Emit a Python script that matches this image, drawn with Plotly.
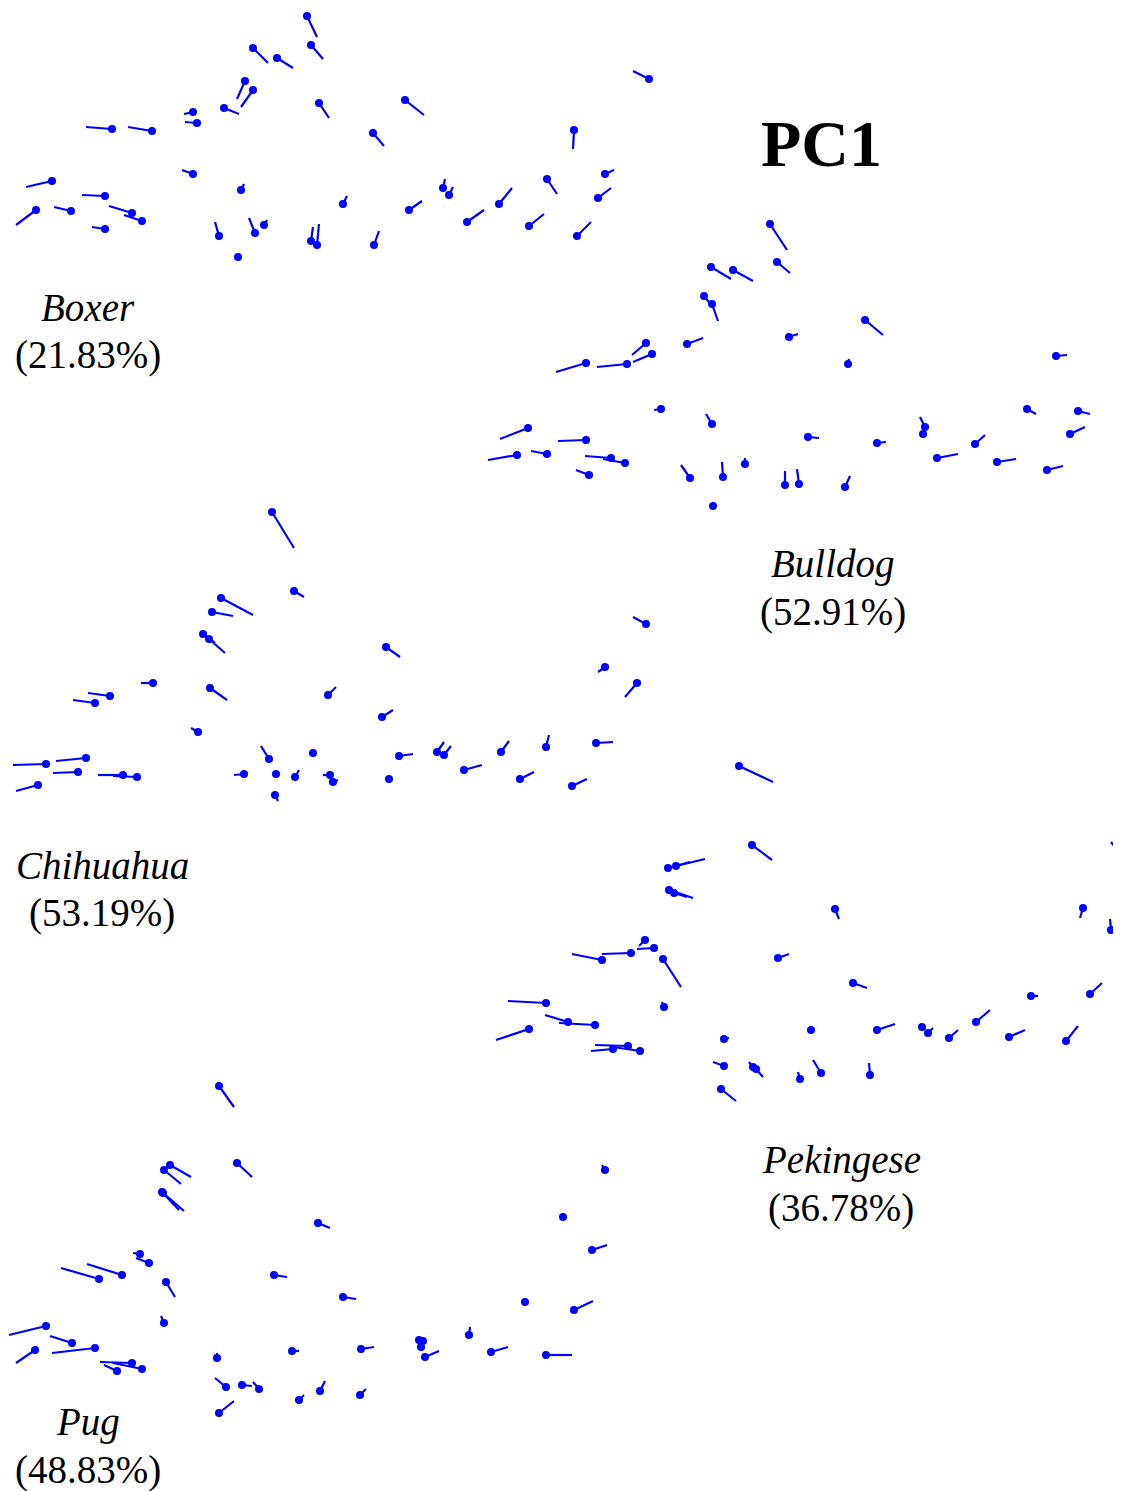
import plotly.graph_objects as go

# ---------------- data (landmark positions and PC1 vector tips) ----------------
boxer_x = [307,311,253,277,245,253,224,319,193,197,112,152,193,52,105,36,71,132,142,105,241,219,255,264,238,311,317,649,405,373,574,605,547,598,343,443,449,499,409,467,529,577,374]
boxer_y = [16,45,48,58,81,90,108,103,112,123,129,131,174,181,196,210,211,213,221,229,190,236,233,225,257,241,245,79,100,133,130,174,179,198,204,188,195,204,210,222,226,236,245]
boxer_tx = [317,323,268,293,237,241,239,329,184,185,86,128,182,26,82,16,54,109,124,92,244,215,249,267,238,313,319,633,424,384,573,614,557,611,347,445,453,512,422,484,544,591,379]
boxer_ty = [37,59,63,68,99,107,114,118,114,122,127,127,170,187,195,225,207,206,215,227,184,222,218,220,257,227,224,71,115,146,149,170,194,188,196,179,187,188,201,210,214,222,231]

bulldog_x = [770,777,711,733,704,712,687,789,646,652,586,627,661,712,528,586,517,547,611,625,589,690,723,745,785,799,713,808,865,848,1056,877,925,923,1027,1078,975,1070,937,997,1047,845,1123]
bulldog_y = [224,262,267,270,296,304,344,337,343,354,363,364,409,424,428,440,455,454,458,463,475,478,477,464,485,484,506,437,320,364,356,443,427,434,409,411,444,434,458,462,470,487,302]
bulldog_tx = [787,790,731,753,713,718,703,798,632,633,556,597,654,706,500,558,488,531,585,603,576,681,722,745,785,797,713,819,883,849,1067,886,920,923,1036,1090,985,1085,958,1016,1063,850,1119]
bulldog_ty = [250,273,279,281,307,321,338,334,355,362,372,367,410,414,439,441,460,451,456,459,470,465,462,458,471,469,506,438,335,359,355,442,417,434,414,414,435,427,454,459,466,476,299]

chihuahua_x = [272,294,221,212,203,209,153,110,95,210,198,328,46,86,78,38,123,137,244,269,276,295,313,275,330,333,646,386,605,637,382,399,437,444,501,546,596,389,464,520,572]
chihuahua_y = [512,591,598,612,634,639,683,696,703,688,732,695,764,758,772,785,775,777,774,759,774,777,753,795,775,782,624,647,667,683,717,756,752,755,752,747,743,779,770,779,786]
chihuahua_tx = [294,304,253,233,215,225,141,88,73,227,191,336,13,56,53,16,98,113,234,261,276,299,313,278,323,338,633,400,598,625,393,413,444,451,509,549,613,389,482,534,587]
chihuahua_ty = [548,597,615,616,643,653,683,693,700,700,728,687,765,761,773,791,775,776,775,746,774,770,753,801,775,780,617,657,672,697,710,754,742,746,741,735,742,779,765,772,779]

pekingese_x = [739,752,668,676,669,674,602,631,645,654,663,664,778,546,529,568,595,628,613,640,724,724,753,756,721,800,811,1118,835,1083,1111,853,1031,1090,877,922,928,949,976,1009,1066,821,870]
pekingese_y = [766,845,868,866,890,893,960,953,940,948,959,1007,958,1003,1029,1022,1025,1046,1049,1051,1039,1066,1067,1069,1089,1079,1030,851,909,908,930,983,996,994,1030,1027,1033,1038,1022,1037,1041,1073,1075]
pekingese_tx = [773,772,690,705,693,687,572,602,639,637,681,662,789,508,496,545,559,595,591,613,729,713,749,763,736,798,811,1111,839,1080,1110,867,1038,1102,895,922,933,958,990,1025,1078,813,869]
pekingese_ty = [782,860,862,859,898,897,954,954,946,949,987,1002,954,1001,1040,1015,1023,1045,1051,1047,1038,1062,1062,1077,1101,1072,1030,842,919,918,919,988,996,983,1024,1027,1028,1030,1010,1030,1026,1060,1063]

pug_x = [219,237,170,164,162,163,318,140,149,122,99,166,274,164,46,72,35,95,132,142,117,217,292,226,242,259,219,299,605,563,592,343,525,574,469,361,419,423,421,425,491,546,320,360]
pug_y = [1086,1163,1165,1170,1192,1193,1223,1254,1263,1275,1279,1282,1275,1323,1326,1343,1350,1348,1363,1369,1371,1358,1351,1387,1385,1389,1413,1400,1170,1217,1250,1297,1302,1310,1335,1349,1340,1341,1347,1357,1352,1355,1391,1395]
pug_tx = [234,252,191,181,184,179,330,133,136,87,61,175,287,161,9,50,16,52,100,113,104,217,299,215,252,253,234,304,602,563,607,356,525,593,470,374,419,423,421,439,508,572,325,366]
pug_ty = [1107,1177,1177,1184,1211,1210,1228,1253,1258,1264,1268,1297,1277,1316,1335,1336,1363,1353,1362,1363,1365,1353,1351,1378,1386,1382,1401,1395,1165,1217,1245,1299,1302,1301,1327,1347,1340,1341,1347,1351,1347,1355,1381,1389]

breeds = ["Boxer", "Bulldog", "Chihuahua", "Pekingese", "Pug"]
variance = ["21.83%", "52.91%", "53.19%", "36.78%", "48.83%"]
label_x = [88, 833, 102, 841, 88]
label_y = [307, 564, 865, 1160, 1422]
title_text = "PC1"

panels = [
    (boxer_x, boxer_y, boxer_tx, boxer_ty),
    (bulldog_x, bulldog_y, bulldog_tx, bulldog_ty),
    (chihuahua_x, chihuahua_y, chihuahua_tx, chihuahua_ty),
    (pekingese_x, pekingese_y, pekingese_tx, pekingese_ty),
    (pug_x, pug_y, pug_tx, pug_ty),
]

BLUE = "#0000ff"
SERIF = "Liberation Serif, Times New Roman, serif"
OFF = 8  # page body margin

fig = go.Figure()
for name, (xs, ys, txs, tys) in zip(breeds, panels):
    lx, ly = [], []
    for x, y, tx, ty in zip(xs, ys, txs, tys):
        lx += [x, tx, None]
        ly += [y, ty, None]
    fig.add_trace(go.Scatter(x=lx, y=ly, mode="lines",
                             line=dict(color=BLUE, width=2.2),
                             hoverinfo="skip", showlegend=False))
    fig.add_trace(go.Scatter(x=xs, y=ys, mode="markers", name=name,
                             marker=dict(color=BLUE, size=8, line=dict(width=0)),
                             showlegend=False))

for b, v, x, y in zip(breeds, variance, label_x, label_y):
    fig.add_annotation(x=x, y=y, text="<i>%s</i>" % b, showarrow=False,
                       font=dict(family=SERIF, size=39, color="black"),
                       xanchor="center", yanchor="middle")
    fig.add_annotation(x=x, y=y + 48, text="(%s)" % v, showarrow=False,
                       font=dict(family=SERIF, size=39, color="black"),
                       xanchor="center", yanchor="middle")

fig.add_annotation(x=821, y=143, text="<b>%s</b>" % title_text, showarrow=False,
                   font=dict(family=SERIF, size=66, color="black"),
                   xanchor="center", yanchor="middle")

W, H = 1121, 1491
fig.update_xaxes(range=[OFF, W], visible=False, fixedrange=True)
fig.update_yaxes(range=[H, OFF], visible=False, fixedrange=True)
fig.update_layout(width=W - OFF, height=H - OFF, margin=dict(l=0, r=0, t=0, b=0),
                  paper_bgcolor="white", plot_bgcolor="white")

fig.write_html("out.html")
